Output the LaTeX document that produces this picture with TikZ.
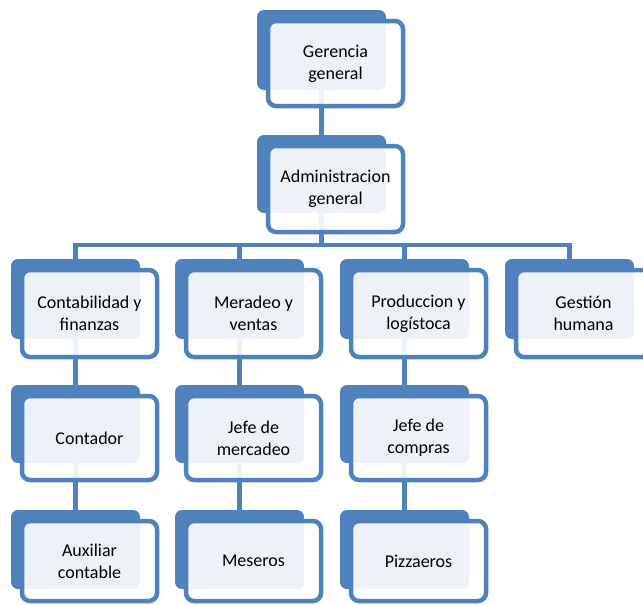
\documentclass[tikz,border=0pt]{standalone}
\usepackage{fontspec}
\setmainfont{Carlito}
\definecolor{ob}{HTML}{4F81BD}
\pgfdeclarelayer{bg}
\pgfsetlayers{bg,main}
\tikzset{
 backbox/.style={fill=ob, draw=none, rounded corners=7pt, minimum width=129pt, anchor=north west, inner sep=0pt, outer sep=0pt},
 frontbox/.style={draw=ob, line width=4.5pt, fill=white, fill opacity=0.9, text opacity=1, draw opacity=1, rounded corners=8pt, minimum width=135pt, anchor=north west, align=center, inner sep=0pt, outer sep=0pt, font=\fontsize{18}{22}\selectfont, text=black},
 conn/.style={draw=ob, line width=4.5pt}
}
\begin{document}
\begin{tikzpicture}[x=1pt,y=-1pt]
\useasboundingbox (0,0) rectangle (643,605);
\begin{scope}
\clip (0,0) rectangle (643,605);
% row 1
\node[backbox, minimum height=80pt] (gerB) at (257,10) {};
\node[frontbox, minimum height=85pt] (ger) at (268,21) {Gerencia\\general};
% row 2
\node[backbox, minimum height=78pt] (admB) at (257,135) {};
\node[frontbox, minimum height=86pt] (adm) at (268,146) {Administracion\\general};
% row 3
\node[backbox, minimum height=80pt] (c1B) at (11,259) {};
\node[frontbox, minimum height=87pt] (c1) at (22,270) {Contabilidad y\\finanzas};
\node[backbox, minimum height=80pt] (c2B) at (175,259) {};
\node[frontbox, minimum height=87pt] (c2) at (186,270) {Meradeo y\\ventas};
\node[backbox, minimum height=80pt] (c3B) at (340,259) {};
\node[frontbox, minimum height=87pt] (c3) at (351,270) {Produccion y\\logístoca};
\node[backbox, minimum height=80pt] (c4B) at (505,259) {};
\node[frontbox, minimum height=87pt] (c4) at (516,270) {Gestión\\humana};
% row 4
\node[backbox, minimum height=78pt] (d1B) at (11,385) {};
\node[frontbox, minimum height=84pt] (d1) at (22,396) {Contador};
\node[backbox, minimum height=78pt] (d2B) at (175,385) {};
\node[frontbox, minimum height=84pt] (d2) at (186,396) {Jefe de\\mercadeo};
\node[backbox, minimum height=78pt] (d3B) at (340,385) {};
\node[frontbox, minimum height=84pt] (d3) at (351,396) {Jefe de\\compras};
% row 5
\node[backbox, minimum height=79pt] (e1B) at (11,510) {};
\node[frontbox, minimum height=80pt] (e1) at (22,521) {Auxiliar\\contable};
\node[backbox, minimum height=79pt] (e2B) at (175,510) {};
\node[frontbox, minimum height=80pt] (e2) at (186,521) {Meseros};
\node[backbox, minimum height=79pt] (e3B) at (340,510) {};
\node[frontbox, minimum height=80pt] (e3) at (351,521) {Pizzaeros};
% connectors
\begin{pgfonlayer}{bg}
\draw[conn] (gerB.south) -- (admB.north);
\draw[conn] (admB.south) -- ++(0,32) -| (c1B.north);
\draw[conn] (admB.south) -- ++(0,32) -| (c2B.north);
\draw[conn] (admB.south) -- ++(0,32) -| (c3B.north);
\draw[conn] (admB.south) -- ++(0,32) -| (c4B.north);
\draw[conn] (c1B.south) -- (d1B.north);
\draw[conn] (c2B.south) -- (d2B.north);
\draw[conn] (c3B.south) -- (d3B.north);
\draw[conn] (d1B.south) -- (e1B.north);
\draw[conn] (d2B.south) -- (e2B.north);
\draw[conn] (d3B.south) -- (e3B.north);
\end{pgfonlayer}
\end{scope}
\end{tikzpicture}
\end{document}
